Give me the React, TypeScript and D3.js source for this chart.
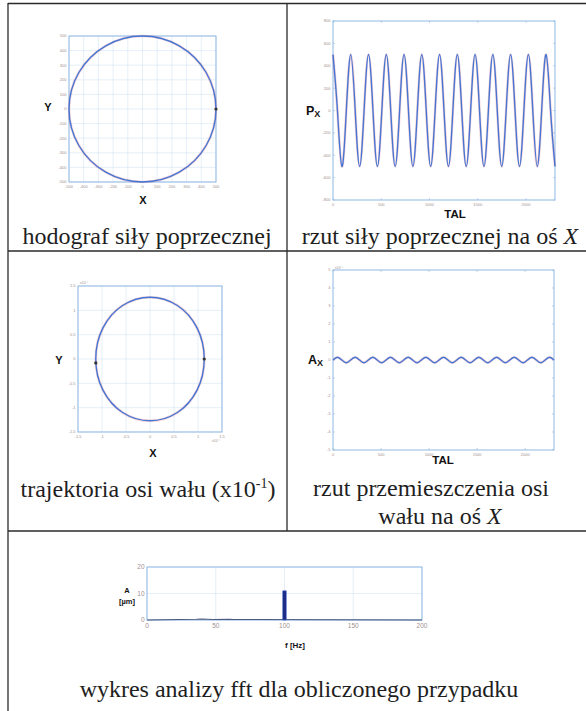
import React from 'react';
import * as d3 from 'd3';

// ---- hodograph of the lateral force (Y vs X) ----
const hodoTicks = [-500, -400, -300, -200, -100, 0, 100, 200, 300, 400, 500];
const hodoX = [500, 433, 250, 0, -250, -433, -500, -433, -250, 0, 250, 433];
const hodoY = [0, 250, 433, 500, 433, 250, 0, -250, -433, -500, -433, -250];

// ---- force projection on X over time ----
const forceTicks = [-800, -600, -400, -200, 0, 200, 400, 600, 800];
const timeTicks = [0, 500, 1000, 1500, 2000];
const timeSamples = [
  0, 46, 92, 138, 184, 230, 276, 322, 368, 414, 460, 506, 552, 598, 644, 690, 736,
  782, 828, 874, 920, 966, 1012, 1058, 1104, 1150, 1196, 1242, 1288, 1334, 1380,
  1426, 1472, 1518, 1564, 1610, 1656, 1702, 1748, 1794, 1840, 1886, 1932, 1978,
  2024, 2070, 2116, 2162, 2208, 2254, 2300,
];
const forceX = [
  500, 0, -500, 0, 500, 0, -500, 0, 500, 0, -500, 0, 500, 0, -500, 0, 500, 0, -500,
  0, 500, 0, -500, 0, 500, 0, -500, 0, 500, 0, -500, 0, 500, 0, -500, 0, 500, 0,
  -500, 0, 500, 0, -500, 0, 500, 0, -500, 0, 500, 0, -500,
];

// ---- shaft axis trajectory ----
const trajTicks = [-1.5, -1, -0.5, 0, 0.5, 1, 1.5];
const trajX = [1.13, 0.98, 0.57, 0, -0.57, -0.98, -1.13, -0.98, -0.57, 0, 0.57, 0.98];
const trajY = [0, 0.64, 1.1, 1.27, 1.1, 0.64, 0, -0.64, -1.1, -1.27, -1.1, -0.64];

// ---- shaft displacement on X over time ----
const dispTicks = [-5, -4, -3, -2, -1, 0, 1, 2, 3, 4, 5];
const dispX = [
  0, 0.15, 0, -0.15, 0, 0.15, 0, -0.15, 0, 0.15, 0, -0.15, 0, 0.15, 0, -0.15, 0,
  0.15, 0, -0.15, 0, 0.15, 0, -0.15, 0, 0.15, 0, -0.15, 0, 0.15, 0, -0.15, 0, 0.15,
  0, -0.15, 0, 0.15, 0, -0.15, 0, 0.15, 0, -0.15, 0, 0.15, 0, -0.15, 0, 0.15, 0,
];

// ---- FFT spectrum ----
const fftFreqTicks = [0, 50, 100, 150, 200];
const fftAmpTicks = [0, 10, 20];
const fftPeakFreq = [100];
const fftPeakAmp = [11];
const fftNoiseFreq = [0, 36, 40, 44, 48, 60, 63, 200];
const fftNoiseAmp = [0, 0.3, 0.4, 0.3, 0.2, 0.3, 0.2, 0];

const BOX = '#8fb9e3';
const GRID = '#d3e4f4';
const LINE = '#4676d4';
const UNDER = '#e4707a';
const TICKTXT = '#a09090';
const SERIF = '"Liberation Serif", "Times New Roman", serif';
const SANS = '"Liberation Sans", Arial, sans-serif';

type Box = { x0: number; x1: number; y0: number; y1: number };

function Axes({ b, xs, ys, xTicks, yTicks, grid, fs, fmtX, fmtY }: any) {
  return (
    <g>
      {grid &&
        xTicks.map((t: number, i: number) => (
          <line key={'gx' + i} x1={xs(t)} x2={xs(t)} y1={b.y0} y2={b.y1} stroke={GRID} strokeWidth={0.6} />
        ))}
      {grid &&
        yTicks.map((t: number, i: number) => (
          <line key={'gy' + i} x1={b.x0} x2={b.x1} y1={ys(t)} y2={ys(t)} stroke={GRID} strokeWidth={0.6} />
        ))}
      {!grid &&
        xTicks.map((t: number, i: number) => (
          <g key={'tx' + i}>
            <line x1={xs(t)} x2={xs(t)} y1={b.y1} y2={b.y1 - 2} stroke={BOX} strokeWidth={0.6} />
            <line x1={xs(t)} x2={xs(t)} y1={b.y0} y2={b.y0 + 2} stroke={BOX} strokeWidth={0.6} />
          </g>
        ))}
      {!grid &&
        yTicks.map((t: number, i: number) => (
          <g key={'ty' + i}>
            <line x1={b.x0} x2={b.x0 + 2} y1={ys(t)} y2={ys(t)} stroke={BOX} strokeWidth={0.6} />
            <line x1={b.x1} x2={b.x1 - 2} y1={ys(t)} y2={ys(t)} stroke={BOX} strokeWidth={0.6} />
          </g>
        ))}
      <rect x={b.x0} y={b.y0} width={b.x1 - b.x0} height={b.y1 - b.y0} fill="none" stroke={BOX} strokeWidth={1} />
      {xTicks.map((t: number, i: number) => (
        <text key={'lx' + i} x={xs(t)} y={b.y1 + fs + 1.5} fontSize={fs} fill={TICKTXT} fontFamily={SANS} textAnchor="middle">
          {fmtX(t)}
        </text>
      ))}
      {yTicks.map((t: number, i: number) => (
        <text key={'ly' + i} x={b.x0 - 2.5} y={ys(t) + fs * 0.35} fontSize={fs} fill={TICKTXT} fontFamily={SANS} textAnchor="end">
          {fmtY(t)}
        </text>
      ))}
    </g>
  );
}

function Trace({ d }: { d: string }) {
  return (
    <g>
      <path d={d} fill="none" stroke={UNDER} strokeWidth={2.6} opacity={0.3} />
      <path d={d} fill="none" stroke={LINE} strokeWidth={1.4} />
    </g>
  );
}

export default function App() {
  const fmt = (t: number) => String(t);

  // chart 1: hodograph
  const b1: Box = { x0: 69, x1: 216, y0: 36, y1: 182 };
  const x1 = d3.scaleLinear().domain([-500, 500]).range([b1.x0, b1.x1]);
  const y1 = d3.scaleLinear().domain([-500, 500]).range([b1.y1, b1.y0]);
  const closed = d3
    .line<number>()
    .curve(d3.curveCatmullRomClosed.alpha(0.5));
  const hodoPath = closed
    .x((_, i) => x1(hodoX[i]))
    .y((_, i) => y1(hodoY[i]))(hodoX) as string;

  // chart 2: force projection
  const b2: Box = { x0: 333, x1: 555, y0: 21, y1: 200 };
  const x2 = d3.scaleLinear().domain([0, 2300]).range([b2.x0, b2.x1]);
  const y2 = d3.scaleLinear().domain([-800, 800]).range([b2.y1, b2.y0]);
  const forcePath = d3
    .line<number>()
    .curve(d3.curveNatural)
    .x((_, i) => x2(timeSamples[i]))
    .y((_, i) => y2(forceX[i]))(forceX) as string;

  // chart 3: trajectory
  const b3: Box = { x0: 78, x1: 222, y0: 286, y1: 432 };
  const x3 = d3.scaleLinear().domain([-1.5, 1.5]).range([b3.x0, b3.x1]);
  const y3 = d3.scaleLinear().domain([-1.5, 1.5]).range([b3.y1, b3.y0]);
  const trajPath = d3
    .line<number>()
    .curve(d3.curveCatmullRomClosed.alpha(0.5))
    .x((_, i) => x3(trajX[i]))
    .y((_, i) => y3(trajY[i]))(trajX) as string;

  // chart 4: displacement
  const b4: Box = { x0: 333, x1: 554, y0: 270, y1: 450 };
  const x4 = d3.scaleLinear().domain([0, 2300]).range([b4.x0, b4.x1]);
  const y4 = d3.scaleLinear().domain([-5, 5]).range([b4.y1, b4.y0]);
  const dispPath = d3
    .line<number>()
    .curve(d3.curveNatural)
    .x((_, i) => x4(timeSamples[i]))
    .y((_, i) => y4(dispX[i]))(dispX) as string;

  // chart 5: FFT
  const b5: Box = { x0: 147, x1: 422, y0: 567, y1: 620 };
  const x5 = d3.scaleLinear().domain([0, 200]).range([b5.x0, b5.x1]);
  const y5 = d3.scaleLinear().domain([0, 20]).range([b5.y1, b5.y0]);
  const noisePath = d3
    .line<number>()
    .x((_, i) => x5(fftNoiseFreq[i]))
    .y((_, i) => y5(fftNoiseAmp[i]))(fftNoiseAmp) as string;
  const barHalf = 1.7;

  const ink = '#2a2a2a';
  const capStyle = { fontFamily: SERIF, fontSize: 24, fill: '#1e1e1e' };
  const axisLbl = { fontFamily: SANS, fontWeight: 700, fill: '#111' } as const;

  return (
    <svg width={586} height={711} style={{ position: 'absolute', left: 0, top: 0, background: '#fff' }}>
      <rect width={586} height={711} fill="#fff" />

      {/* table rules */}
      <g stroke={ink} strokeWidth={1.3}>
        <line x1={8} x2={586} y1={3.5} y2={3.5} />
        <line x1={8} x2={8} y1={3} y2={711} />
        <line x1={287} x2={287} y1={3} y2={531} />
        <line x1={8} x2={586} y1={251} y2={251} />
        <line x1={8} x2={586} y1={531} y2={531} />
      </g>

      {/* chart 1 */}
      <Axes b={b1} xs={x1} ys={y1} xTicks={hodoTicks} yTicks={hodoTicks} grid fs={4} fmtX={fmt} fmtY={fmt} />
      <Trace d={hodoPath} />
      <circle cx={x1(hodoX[0])} cy={y1(hodoY[0])} r={1.6} fill="#333" />
      <text x={48} y={111} fontSize={11} {...axisLbl} textAnchor="middle">Y</text>
      <text x={143} y={204} fontSize={11} {...axisLbl} textAnchor="middle">X</text>

      {/* chart 2 */}
      <Axes b={b2} xs={x2} ys={y2} xTicks={timeTicks} yTicks={forceTicks} grid={false} fs={4} fmtX={fmt} fmtY={fmt} />
      <Trace d={forcePath} />
      <text x={306} y={115} fontSize={12.5} {...axisLbl}>
        P<tspan fontSize={9} dy={2}>X</tspan>
      </text>
      <text x={455} y={218} fontSize={11.5} {...axisLbl} textAnchor="middle">TAL</text>

      {/* chart 3 */}
      <Axes b={b3} xs={x3} ys={y3} xTicks={trajTicks} yTicks={trajTicks} grid fs={4} fmtX={fmt} fmtY={fmt} />
      <text x={b3.x0 + 2} y={b3.y0 - 2} fontSize={3.5} fill={TICKTXT} fontFamily={SANS}>x10⁻⁴</text>
      <text x={b3.x1 - 10} y={b3.y1 + 10} fontSize={3.5} fill={TICKTXT} fontFamily={SANS}>x10⁻⁴</text>
      <Trace d={trajPath} />
      <circle cx={x3(trajX[0])} cy={y3(trajY[0])} r={1.6} fill="#333" />
      <circle cx={x3(trajX[6])} cy={y3(trajY[6] - 0.08)} r={1.6} fill="#333" />
      <text x={59} y={364} fontSize={11} {...axisLbl} textAnchor="middle">Y</text>
      <text x={153} y={457} fontSize={11} {...axisLbl} textAnchor="middle">X</text>

      {/* chart 4 */}
      <Axes b={b4} xs={x4} ys={y4} xTicks={timeTicks} yTicks={dispTicks} grid={false} fs={4} fmtX={fmt} fmtY={fmt} />
      <text x={b4.x0 + 2} y={b4.y0 - 1} fontSize={3.5} fill={TICKTXT} fontFamily={SANS}>x10⁻⁴</text>
      <Trace d={dispPath} />
      <text x={308} y={364} fontSize={12.5} {...axisLbl}>
        A<tspan fontSize={9} dy={2}>X</tspan>
      </text>
      <text x={443} y={464} fontSize={11.5} {...axisLbl} textAnchor="middle">TAL</text>

      {/* chart 5 */}
      <Axes b={b5} xs={x5} ys={y5} xTicks={fftFreqTicks} yTicks={fftAmpTicks} grid fs={6.5} fmtX={fmt} fmtY={fmt} />
      <path d={noisePath} fill="none" stroke="#4a5a80" strokeWidth={1.1} />
      {fftPeakFreq.map((f, i) => (
        <rect
          key={i}
          x={x5(f) - barHalf}
          y={y5(fftPeakAmp[i])}
          width={barHalf * 2}
          height={y5(0) - y5(fftPeakAmp[i])}
          fill="#1c2a86"
          stroke="#3b5bc0"
          strokeWidth={0.6}
        />
      ))}
      <text x={127} y={593} fontSize={7.5} {...axisLbl} textAnchor="middle">A</text>
      <text x={127} y={604} fontSize={7.5} {...axisLbl} textAnchor="middle">[µm]</text>
      <text x={295} y={648} fontSize={8} {...axisLbl} textAnchor="middle">f [Hz]</text>

      {/* captions */}
      <text x={147} y={244} {...capStyle} textAnchor="middle">hodograf siły poprzecznej</text>
      <text x={440} y={244} {...capStyle} textAnchor="middle">
        rzut siły poprzecznej na oś <tspan fontStyle="italic">X</tspan>
      </text>
      <text x={148} y={497} {...capStyle} textAnchor="middle">
        trajektoria osi wału (x10<tspan fontSize={14} dy={-9}>-1</tspan>
        <tspan dy={9}>)</tspan>
      </text>
      <text x={431} y={496} {...capStyle} textAnchor="middle">rzut przemieszczenia osi</text>
      <text x={440} y={524} {...capStyle} textAnchor="middle">
        wału na oś <tspan fontStyle="italic">X</tspan>
      </text>
      <text x={299} y={697} {...capStyle} textAnchor="middle">wykres analizy fft dla obliczonego przypadku</text>
    </svg>
  );
}
